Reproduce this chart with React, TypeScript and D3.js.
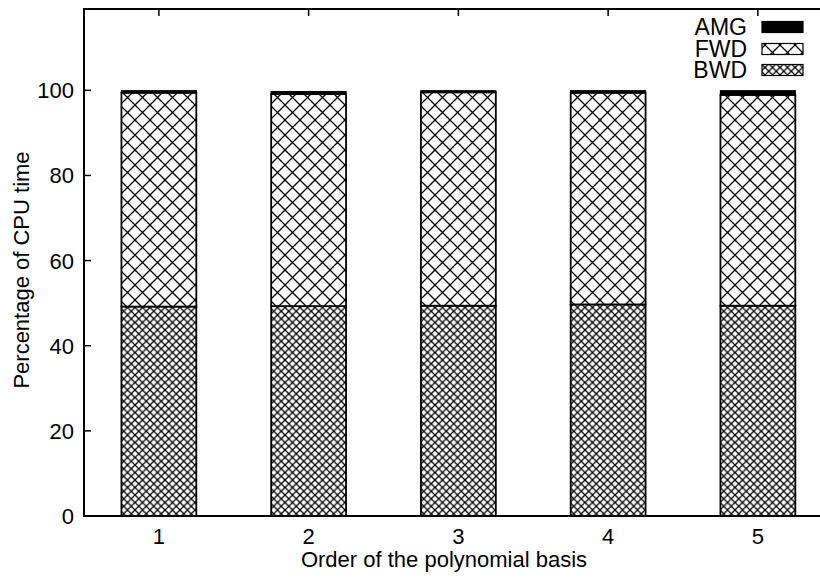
import React from "react";
import * as d3 from "d3";

const categories = ["1", "2", "3", "4", "5"];
const bwd = [49.2, 49.3, 49.4, 49.7, 49.4];
const fwd = [50.2, 49.8, 50.1, 49.7, 49.5];
const amg = [0.5, 0.6, 0.4, 0.5, 1.0];
const seriesNames = ["BWD", "FWD", "AMG"];
const yTicks = [0, 20, 40, 60, 80, 100];

const W = 820;
const H = 580;
const left = 84;
const top = 9;
const bottom = 516;
const step = 149.75;
const FONT = "'Liberation Sans', Arial, sans-serif";

export default function App() {
  const x = d3
    .scaleLinear()
    .domain([0.5, categories.length + 0.5])
    .range([left, left + step * categories.length]);
  const y = d3.scaleLinear().domain([0, 119.1]).range([bottom, top]);
  const right = x(categories.length + 0.5);
  const bw = (x(2) - x(1)) * 0.5;

  const rows = categories.map((c, i) => ({ c, i, BWD: bwd[i], FWD: fwd[i], AMG: amg[i] }));
  const stack = d3.stack<any>().keys(seriesNames)(rows);
  const fills: Record<string, string> = {
    BWD: "url(#pBwd)",
    FWD: "url(#pFwd)",
    AMG: "#000",
  };

  const legendItems = ["AMG", "FWD", "BWD"];
  const legendY = [27, 49, 70];

  return (
    <svg
      width={W}
      height={H}
      style={{ position: "absolute", left: 0, top: 0, background: "#fff" }}
      fontFamily={FONT}
    >
      <defs>
        <pattern id="pFwd" patternUnits="userSpaceOnUse" width={15} height={15}>
          <rect width={15} height={15} fill="#fff" />
          <path d="M0,0L15,15M15,0L0,15" stroke="#000" strokeWidth={1.3} />
        </pattern>
        <pattern id="pBwd" patternUnits="userSpaceOnUse" width={7.5} height={7.5}>
          <rect width={7.5} height={7.5} fill="#fff" />
          <path d="M0,0L7.5,7.5M7.5,0L0,7.5" stroke="#000" strokeWidth={1.3} />
        </pattern>
      </defs>
      <rect width={W} height={H} fill="#fff" />

      {stack.map((s) =>
        s.map((d, i) => (
          <rect
            key={s.key + i}
            x={x(i + 1) - bw / 2}
            y={y(d[1])}
            width={bw}
            height={y(d[0]) - y(d[1])}
            fill={fills[s.key]}
            stroke="#000"
            strokeWidth={s.key === "AMG" ? 1.2 : 1.8}
          />
        ))
      )}

      {/* frame */}
      <path
        d={`M${right},${top}H${left}V${bottom}H${right}`}
        fill="none"
        stroke="#000"
        strokeWidth={2}
      />
      {yTicks.map((t) => (
        <g key={t}>
          <line x1={left} x2={left + 7} y1={y(t)} y2={y(t)} stroke="#000" strokeWidth={1.5} />
          <text x={left - 10} y={y(t)} dy="0.36em" textAnchor="end" fontSize={22}>
            {t}
          </text>
        </g>
      ))}
      {categories.map((c, i) => (
        <g key={c}>
          <line x1={x(i + 1)} x2={x(i + 1)} y1={top} y2={top + 7} stroke="#000" strokeWidth={1.5} />
          <text x={x(i + 1)} y={544} textAnchor="middle" fontSize={22}>
            {c}
          </text>
        </g>
      ))}
      <text x={444} y={567} textAnchor="middle" fontSize={22}>
        Order of the polynomial basis
      </text>
      <text
        transform={`translate(29,270) rotate(-90)`}
        textAnchor="middle"
        fontSize={22}
      >
        Percentage of CPU time
      </text>

      {legendItems.map((k, i) => (
        <g key={k}>
          <text x={747} y={legendY[i]} dy="0.36em" textAnchor="end" fontSize={23}>
            {k}
          </text>
          <rect
            x={762}
            y={legendY[i] - 5.5}
            width={41}
            height={11}
            fill={fills[k]}
            stroke="#000"
            strokeWidth={1.2}
          />
        </g>
      ))}
    </svg>
  );
}
